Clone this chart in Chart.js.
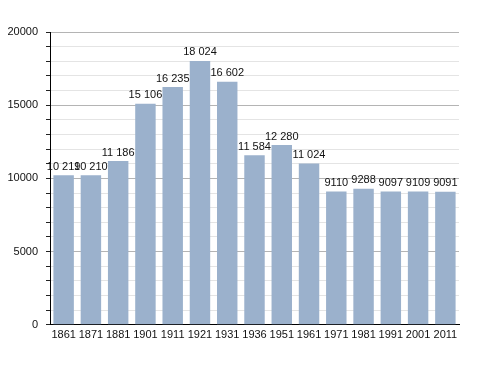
<!DOCTYPE html>
<html>
<head>
<meta charset="utf-8">
<script src="https://cdn.jsdelivr.net/npm/chart.js@4/dist/chart.umd.min.js"></script>
<style>
    html, body { margin: 0; padding: 0; background: #fff; }
    #wrap { width: 488px; height: 373px; }
</style>
</head>
<body>
<div id="wrap"><canvas id="chart" width="488" height="373"></canvas></div>
<script>
const years = ['1861', '1871', '1881', '1901', '1911', '1921', '1931', '1936', '1951', '1961', '1971', '1981', '1991', '2001', '2011'];
const population = [10219, 10210, 11186, 15106, 16235, 18024, 16602, 11584, 12280, 11024, 9110, 9288, 9097, 9109, 9091];
const popLabels = ['10 219', '10 210', '11 186', '15 106', '16 235', '18 024', '16 602', '11 584', '12 280', '11 024', '9110', '9288', '9097', '9109', '9091'];

// draws the value above each bar
const valueLabels = {
    id: 'valueLabels',
    afterDatasetsDraw(chart) {
        const ctx = chart.ctx;
        const meta = chart.getDatasetMeta(0);
        ctx.save();
        ctx.font = '11px "Liberation Sans", Arial, sans-serif';
        ctx.fillStyle = '#111';
        ctx.textAlign = 'center';
        ctx.textBaseline = 'bottom';
        meta.data.forEach(function (bar, i) {
            ctx.fillText(popLabels[i], bar.x, bar.y - 3);
        });
        ctx.restore();
    }
};

new Chart(document.getElementById('chart').getContext('2d'), {
    type: 'bar',
    data: {
        labels: years,
        datasets: [{
            data: population,
            backgroundColor: '#9bb1cc',
            borderWidth: 0,
            barPercentage: 0.75,
            categoryPercentage: 1.0,
        }],
    },
    options: {
        responsive: false,
        animation: false,
        layout: { padding: { top: 32, right: 29, bottom: 27, left: 0 } },
        plugins: {
            legend: { display: false },
            tooltip: { enabled: false },
        },
        scales: {
            x: {
                grid: { display: false, drawTicks: false },
                border: { color: '#000', width: 1 },
                ticks: {
                    color: '#111',
                    font: { family: '"Liberation Sans", Arial, sans-serif', size: 11 },
                    padding: 4,
                    maxRotation: 0,
                    autoSkip: false,
                },
            },
            y: {
                min: 0,
                max: 20000,
                afterFit(scale) { scale.width = 50; },
                border: { color: '#000', width: 1 },
                grid: {
                    color: (c) => (c.tick && c.tick.value % 5000 === 0) ? '#b4b4b4' : '#e4e4e4',
                    tickColor: '#222',
                    tickLength: 4,
                    lineWidth: 1,
                },
                ticks: {
                    stepSize: 1000,
                    maxTicksLimit: 21,
                    autoSkip: false,
                    color: '#111',
                    font: { family: '"Liberation Sans", Arial, sans-serif', size: 11 },
                    padding: 8,
                    callback: (v) => (v % 5000 === 0 ? String(v) : ''),
                },
            },
        },
    },
    plugins: [valueLabels],
});
</script>
</body>
</html>
